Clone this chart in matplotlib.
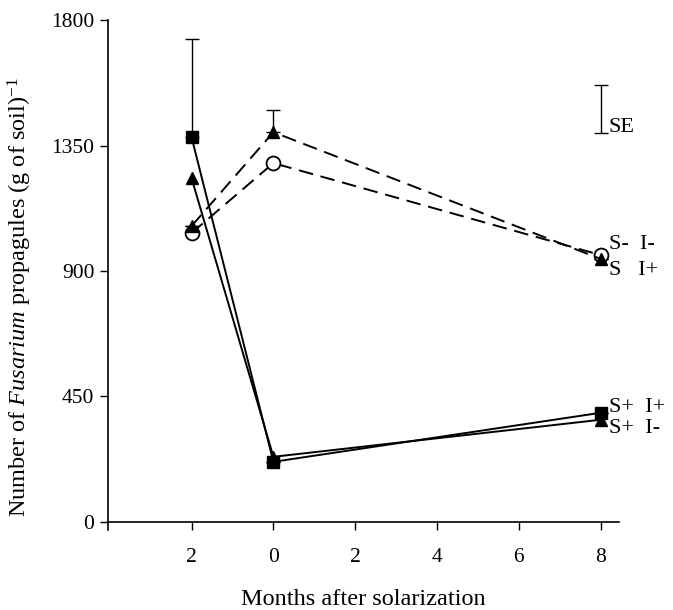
import matplotlib.pyplot as plt

plt.rcParams['font.family'] = 'Liberation Serif'
plt.rcParams['mathtext.fontset'] = 'custom'
plt.rcParams['mathtext.rm'] = 'Liberation Serif'
plt.rcParams['mathtext.it'] = 'Liberation Serif:italic'

months = [-2, 0, 8]
xtick_vals = [-2, 0, 2, 4, 6, 8]
xtick_labels = ['2', '0', '2', '4', '6', '8']
ytick_vals = [0, 450, 900, 1350, 1800]

# solarized plots (solid lines)
s_pos_i_pos = [1380, 215, 391]
s_pos_i_neg = [1233, 233, 366]
# non-solarized plots (dashed lines)
s_neg_i_pos = [1061, 1398, 943]
s_neg_i_neg = [1036, 1287, 957]

# upper half of the standard error bars
err_s_pos_i_pos = [352, 0, 0]
err_s_neg_i_pos = [0, 80, 0]

se_bar = [1395, 1567]

fig = plt.figure(figsize=(6.73, 6.10), dpi=100)
ax = fig.add_axes([0.160, 0.131, 0.76, 0.836])

dash = (0, (7.5, 4))
lw = 1.4

ax.plot(months, s_pos_i_neg, color='black', lw=lw, marker='^', ms=9,
        mfc='black', mec='black', zorder=3)
ax.plot(months, s_pos_i_pos, color='black', lw=lw, marker='s', ms=9,
        mfc='black', mec='black', zorder=4)
ax.plot(months, s_neg_i_neg, color='black', lw=lw, ls=dash, marker='o', ms=10,
        mfc='white', mec='black', mew=1.3, zorder=3)
ax.plot(months, s_neg_i_pos, color='black', lw=lw, ls=dash, marker='^', ms=9,
        mfc='black', mec='black', zorder=4)

ax.errorbar(months, s_pos_i_pos, yerr=[[0, 0, 0], err_s_pos_i_pos], fmt='none',
            ecolor='black', elinewidth=1.0, capsize=5, zorder=2)
ax.errorbar(months, s_neg_i_pos, yerr=[[0, 0, 0], err_s_neg_i_pos], fmt='none',
            ecolor='black', elinewidth=1.0, capsize=5, zorder=2)

# SE scale bar
ax.errorbar([8], [(se_bar[0] + se_bar[1]) / 2], yerr=[(se_bar[1] - se_bar[0]) / 2],
            fmt='none', ecolor='black', elinewidth=1.0, capsize=5)
ax.text(8.2, se_bar[0] + 20, 'SE', fontsize=16, va='center', ha='left')

# treatment labels at the line ends
labels = [('S-  I-', 996), ('S   I+', 900), ('S+  I+', 410), ('S+  I-', 333)]
for txt, yv in labels:
    ax.text(8.2, yv, txt, fontsize=16, va='center', ha='left', clip_on=False)

ax.set_xlim(-4.05, 8.45)
ax.set_ylim(-30, 1800)
ax.spines['top'].set_visible(False)
ax.spines['right'].set_visible(False)
ax.spines['bottom'].set_position(('data', 0))
ax.spines['left'].set_linewidth(1.2)
ax.spines['bottom'].set_linewidth(1.2)

ax.set_xticks(xtick_vals)
ax.set_xticklabels(xtick_labels)
ax.set_yticks(ytick_vals)
ax.tick_params(axis='both', direction='out', length=6, width=1.0, labelsize=15.5)
ax.tick_params(axis='x', pad=13)

ax.set_xlabel('Months after solarization', fontsize=17.5, labelpad=16)
ax.set_ylabel('Number of $\\it{Fusarium}$ propagules (g of soil)$^{-1}$', fontsize=17.5)
ax.yaxis.set_label_coords(-0.145, 0.457)

fig.savefig('out.png', dpi=100)
